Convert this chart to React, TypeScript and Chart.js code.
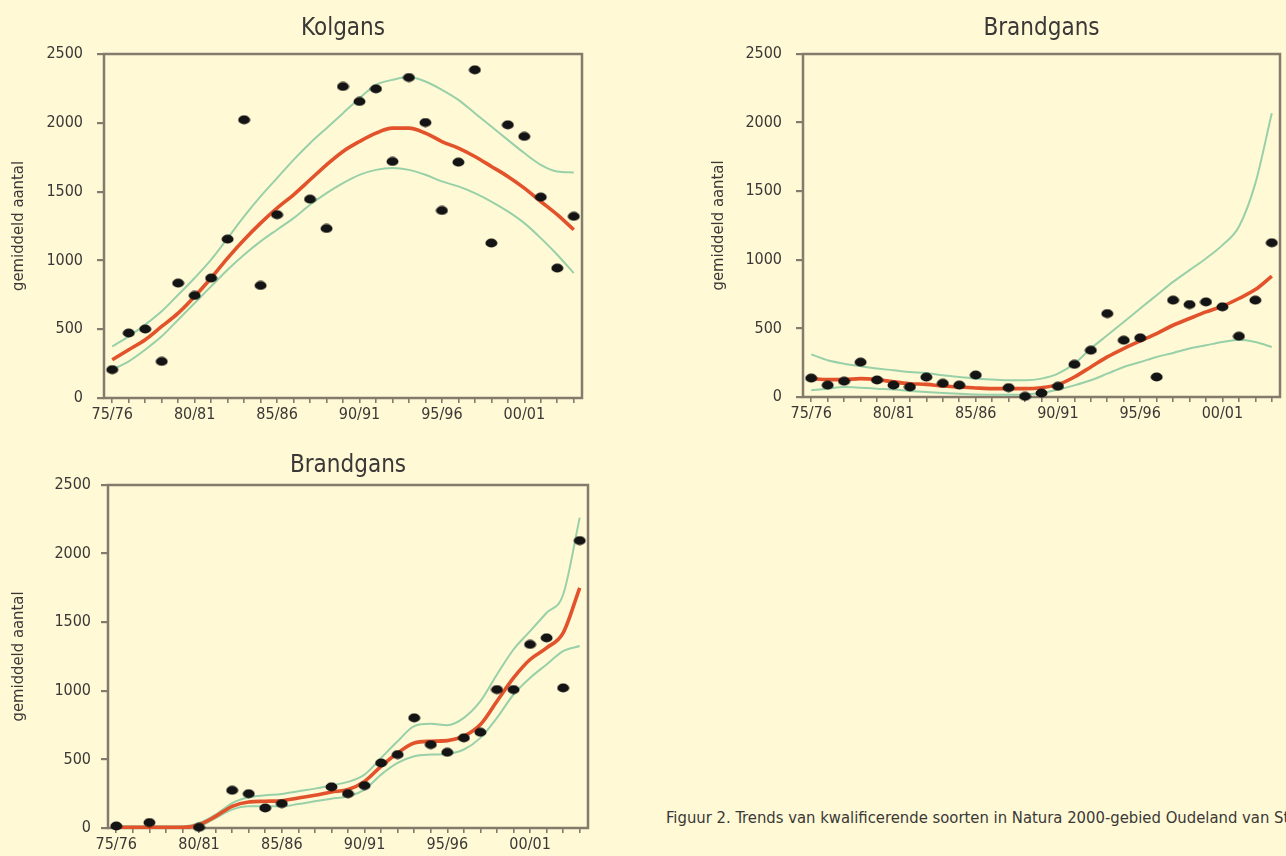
import React, { useEffect, useRef } from 'react';
import { Chart, registerables } from 'chart.js';

Chart.register(...registerables);

// ---------- data ----------
const seasons = [
  '75/76', '76/77', '77/78', '78/79', '79/80', '80/81', '81/82', '82/83', '83/84', '84/85',
  '85/86', '86/87', '87/88', '88/89', '89/90', '90/91', '91/92', '92/93', '93/94', '94/95',
  '95/96', '96/97', '97/98', '98/99', '99/00', '00/01', '01/02', '02/03', '03/04',
];
const labelledSeasons = ['75/76', '80/81', '85/86', '90/91', '95/96', '00/01'];
const yMin = 0;
const yMax = 2500;
const yStep = 500;

// Kolgans (top left)
const kolgansCounts = [206, 472, 501, 266, 835, 745, 872, 1155, 2022, 818, 1332, null, 1445, 1232, 2264, 2155, 2247, 1719, 2329, 2002, 1363, 1714, 2385, 1126, 1985, 1901, 1460, 944, 1320];
const kolgansTrend = [278, 351, 424, 520, 617, 738, 872, 1017, 1150, 1271, 1380, 1477, 1586, 1695, 1792, 1864, 1925, 1961, 1961, 1925, 1864, 1816, 1755, 1683, 1610, 1525, 1428, 1332, 1223];
const kolgansUpper = [375, 448, 533, 630, 750, 872, 1005, 1162, 1320, 1465, 1598, 1731, 1852, 1961, 2070, 2179, 2276, 2312, 2332, 2300, 2240, 2167, 2070, 1973, 1876, 1780, 1695, 1646, 1639];
const kolgansLower = [206, 266, 351, 448, 569, 690, 811, 932, 1041, 1138, 1223, 1307, 1404, 1489, 1562, 1622, 1658, 1671, 1658, 1622, 1574, 1538, 1489, 1428, 1356, 1271, 1162, 1041, 908];

// Brandgans (top right)
const brandgansCounts = [138, 87, 115, 254, 124, 87, 73, 145, 100, 87, 160, null, 68, 5, 29, 78, 238, 341, 608, 414, 431, 146, 706, 674, 693, 657, 443, 706, 1124];
const brandgansTrend = [134, 127, 127, 134, 127, 110, 97, 92, 80, 73, 66, 61, 61, 61, 68, 90, 146, 219, 292, 353, 409, 462, 523, 572, 620, 662, 718, 783, 881];
const brandgansUpper = [311, 268, 243, 224, 207, 195, 182, 175, 158, 146, 134, 127, 122, 122, 134, 170, 243, 353, 450, 547, 645, 742, 839, 925, 1010, 1107, 1241, 1557, 2068];
const brandgansLower = [49, 61, 73, 68, 61, 54, 44, 36, 29, 24, 19, 17, 17, 19, 29, 54, 85, 122, 170, 219, 255, 292, 321, 353, 377, 401, 418, 401, 365];

// Brandgans (bottom left)
const brandgans2Counts = [15, null, 40, null, null, 5, null, 275, 250, 146, 178, null, null, 300, 250, 309, 474, 535, 803, 608, 552, 657, 698, 1009, 1009, 1338, 1386, 1021, 2095];
const brandgans2Trend = [5, 5, 5, 5, 5, 24, 85, 158, 190, 195, 199, 219, 238, 263, 280, 340, 450, 547, 620, 632, 637, 669, 754, 924, 1094, 1228, 1313, 1423, 1751];
const brandgans2Upper = [12, 12, 12, 12, 12, 36, 97, 182, 224, 238, 248, 268, 287, 311, 336, 389, 511, 632, 742, 759, 749, 803, 924, 1119, 1301, 1435, 1569, 1702, 2262];
const brandgans2Lower = [0, 0, 0, 0, 0, 12, 73, 134, 158, 158, 158, 175, 195, 214, 231, 280, 389, 474, 523, 535, 540, 572, 657, 803, 973, 1094, 1192, 1289, 1326];

const yAxisTitle = 'gemiddeld aantal';
const caption = 'Figuur 2. Trends van kwalificerende soorten in Natura 2000-gebied Oudeland van Strijen.';

// ---------- styles ----------
const FONT = "'DejaVu Sans Condensed', 'Liberation Sans Narrow', 'DejaVu Sans', sans-serif";
const BG = '#fff9d6';
const TEXT = '#3a3836';
const FRAME = '#857b6c';
const RED = '#e2522b';
const GREEN = '#98d0a8';

type PanelCfg = {
  title: string;
  counts: (number | null)[];
  trend: number[];
  upper: number[];
  lower: number[];
  left: number;
  top: number;
  width: number;
  height: number;
  yAxisWidth: number;
  xAxisHeight: number;
  padRight: number;
  titlePadTop: number;
  titlePadBottom: number;
  yTitlePad: number;
  yTickPad: number;
};

// title line box = 24 * 1.2 = 28.8
const panels: PanelCfg[] = [
  {
    title: 'Kolgans', counts: kolgansCounts, trend: kolgansTrend, upper: kolgansUpper, lower: kolgansLower,
    left: 0, top: 0, width: 600, height: 430, yAxisWidth: 104, xAxisHeight: 32, padRight: 18,
    titlePadTop: 14, titlePadBottom: 11.2, yTitlePad: 9, yTickPad: 14,
  },
  {
    title: 'Brandgans', counts: brandgansCounts, trend: brandgansTrend, upper: brandgansUpper, lower: brandgansLower,
    left: 700, top: 0, width: 586, height: 430, yAxisWidth: 103, xAxisHeight: 33, padRight: 5,
    titlePadTop: 14, titlePadBottom: 11.2, yTitlePad: 9, yTickPad: 14,
  },
  {
    title: 'Brandgans', counts: brandgans2Counts, trend: brandgans2Trend, upper: brandgans2Upper, lower: brandgans2Lower,
    left: 0, top: 430, width: 600, height: 426, yAxisWidth: 108, xAxisHeight: 28, padRight: 12,
    titlePadTop: 21, titlePadBottom: 5.2, yTitlePad: 9, yTickPad: 10,
  },
];

function makeDot(): HTMLCanvasElement {
  const c = document.createElement('canvas');
  c.width = 13;
  c.height = 10;
  const ctx = c.getContext('2d')!;
  ctx.fillStyle = '#141414';
  ctx.beginPath();
  ctx.ellipse(6.5, 5, 6, 4.4, 0, 0, Math.PI * 2);
  ctx.fill();
  return c;
}

const framePlugin = {
  id: 'frame',
  beforeDatasetsDraw(chart: any) {
    const { ctx, chartArea: a } = chart;
    ctx.save();
    ctx.strokeStyle = FRAME;
    ctx.lineWidth = 2.5;
    ctx.strokeRect(a.left, a.top, a.right - a.left, a.bottom - a.top);
    ctx.restore();
  },
};

function Panel({ cfg }: { cfg: PanelCfg }) {
  const ref = useRef<HTMLCanvasElement>(null);
  useEffect(() => {
    const dot = makeDot();
    const lineDs = (data: number[], color: string, width: number) => ({
      data,
      borderColor: color,
      borderWidth: width,
      pointRadius: 0,
      fill: false,
      cubicInterpolationMode: 'monotone' as const,
      clip: false as const,
    });
    const chart = new Chart(ref.current!, {
      type: 'line',
      data: {
        labels: seasons,
        datasets: [
          {
            data: cfg.counts,
            showLine: false,
            pointStyle: dot as any,
            pointRadius: 5,
            pointHoverRadius: 5,
            spanGaps: false,
            clip: false as const,
          } as any,
          lineDs(cfg.trend, RED, 3.6),
          lineDs(cfg.upper, GREEN, 2),
          lineDs(cfg.lower, GREEN, 2),
        ],
      },
      options: {
        responsive: false,
        animation: false,
        events: [],
        layout: { padding: { left: 0, right: cfg.padRight, top: 0, bottom: 0 } },
        plugins: {
          legend: { display: false },
          tooltip: { enabled: false },
          title: {
            display: true,
            text: cfg.title,
            fullSize: false,
            color: TEXT,
            font: { family: FONT, size: 24, weight: 'normal' },
            padding: { top: cfg.titlePadTop, bottom: cfg.titlePadBottom },
          },
        },
        scales: {
          x: {
            type: 'category',
            offset: true,
            border: { display: false },
            grid: {
              offset: false,
              drawOnChartArea: false,
              drawTicks: true,
              tickLength: 5,
              color: FRAME,
              lineWidth: 1.6,
            },
            ticks: {
              autoSkip: false,
              maxRotation: 0,
              minRotation: 0,
              padding: 2,
              color: TEXT,
              font: { family: FONT, size: 16 },
              callback: (_v: any, i: number) => (labelledSeasons.includes(seasons[i]) ? seasons[i] : ''),
            },
            afterFit: (s: any) => { s.height = cfg.xAxisHeight; },
          },
          y: {
            type: 'linear',
            min: yMin,
            max: yMax,
            border: { display: false },
            grid: {
              drawOnChartArea: false,
              drawTicks: true,
              tickLength: 7,
              color: FRAME,
              lineWidth: 2.2,
            },
            ticks: {
              stepSize: yStep,
              padding: cfg.yTickPad,
              color: TEXT,
              font: { family: FONT, size: 16 },
              callback: (v: any) => String(v),
            },
            title: {
              display: true,
              text: yAxisTitle,
              color: TEXT,
              font: { family: FONT, size: 16.5 },
              padding: { top: cfg.yTitlePad, bottom: 0 },
            },
            afterFit: (s: any) => { s.width = cfg.yAxisWidth; },
          },
        },
      },
      plugins: [framePlugin],
    });
    return () => chart.destroy();
  }, [cfg]);
  return (
    <canvas
      ref={ref}
      width={cfg.width}
      height={cfg.height}
      style={{ position: 'absolute', left: cfg.left, top: cfg.top, width: cfg.width, height: cfg.height }}
    />
  );
}

export default function App() {
  return (
    <div
      style={{
        position: 'fixed',
        left: 0,
        top: 0,
        width: 1286,
        height: 856,
        background: BG,
        overflow: 'hidden',
      }}
    >
      {panels.map((p, i) => (
        <Panel key={i} cfg={p} />
      ))}
      <div
        style={{
          position: 'absolute',
          left: 666,
          top: 808,
          fontFamily: FONT,
          fontSize: 16.5,
          lineHeight: '20px',
          color: TEXT,
          whiteSpace: 'nowrap',
        }}
      >
        {caption}
      </div>
    </div>
  );
}
